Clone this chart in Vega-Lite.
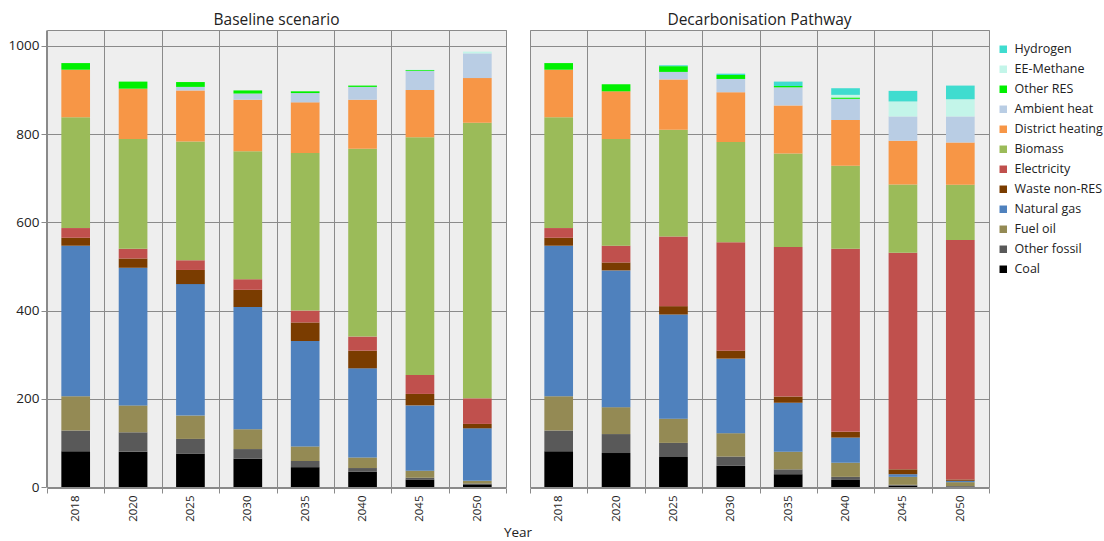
{
  "$schema": "https://vega.github.io/schema/vega-lite/v6.json",
  "padding": {"left": 8, "top": 12, "right": 0, "bottom": 0},
  "background": "white",
  "config": {
    "font": "Open Sans",
    "view": {"fill": "#eeeeee", "stroke": "#8a8a8a", "strokeWidth": 1},
    "axis": {"gridColor": "#8a8a8a", "gridOpacity": 1, "gridWidth": 1, "domainColor": "#8a8a8a", "tickColor": "#8a8a8a", "labelColor": "#222222", "labelFont": "Open Sans"},
    "legend": {"labelFont": "Open Sans"}
  },
  "data": {
    "values": [
      {"scenario": "Baseline scenario", "year": "2018", "Coal": 81, "Other fossil": 47, "Fuel oil": 78, "Natural gas": 341, "Waste non-RES": 18, "Electricity": 22, "Biomass": 251, "District heating": 108, "Ambient heat": 0, "Other RES": 15, "EE-Methane": 0, "Hydrogen": 0},
      {"scenario": "Baseline scenario", "year": "2020", "Coal": 80, "Other fossil": 44, "Fuel oil": 61, "Natural gas": 312, "Waste non-RES": 21, "Electricity": 22, "Biomass": 249, "District heating": 114, "Ambient heat": 0, "Other RES": 16, "EE-Methane": 0, "Hydrogen": 0},
      {"scenario": "Baseline scenario", "year": "2025", "Coal": 76, "Other fossil": 33, "Fuel oil": 53, "Natural gas": 298, "Waste non-RES": 32, "Electricity": 22, "Biomass": 269, "District heating": 116, "Ambient heat": 8, "Other RES": 11, "EE-Methane": 0, "Hydrogen": 0},
      {"scenario": "Baseline scenario", "year": "2030", "Coal": 64, "Other fossil": 22, "Fuel oil": 45, "Natural gas": 277, "Waste non-RES": 39, "Electricity": 24, "Biomass": 290, "District heating": 117, "Ambient heat": 14, "Other RES": 7, "EE-Methane": 0, "Hydrogen": 0},
      {"scenario": "Baseline scenario", "year": "2035", "Coal": 45, "Other fossil": 14, "Fuel oil": 33, "Natural gas": 239, "Waste non-RES": 42, "Electricity": 27, "Biomass": 357, "District heating": 115, "Ambient heat": 21, "Other RES": 4, "EE-Methane": 0, "Hydrogen": 0},
      {"scenario": "Baseline scenario", "year": "2040", "Coal": 35, "Other fossil": 8, "Fuel oil": 24, "Natural gas": 202, "Waste non-RES": 40, "Electricity": 32, "Biomass": 426, "District heating": 111, "Ambient heat": 29, "Other RES": 3, "EE-Methane": 0, "Hydrogen": 0},
      {"scenario": "Baseline scenario", "year": "2045", "Coal": 17, "Other fossil": 4, "Fuel oil": 16, "Natural gas": 148, "Waste non-RES": 26, "Electricity": 43, "Biomass": 539, "District heating": 107, "Ambient heat": 43, "Other RES": 2, "EE-Methane": 1, "Hydrogen": 0},
      {"scenario": "Baseline scenario", "year": "2050", "Coal": 6, "Other fossil": 2, "Fuel oil": 6, "Natural gas": 119, "Waste non-RES": 10, "Electricity": 58, "Biomass": 625, "District heating": 101, "Ambient heat": 56, "Other RES": 0, "EE-Methane": 4, "Hydrogen": 0},
      {"scenario": "Decarbonisation Pathway", "year": "2018", "Coal": 81, "Other fossil": 47, "Fuel oil": 78, "Natural gas": 341, "Waste non-RES": 18, "Electricity": 22, "Biomass": 251, "District heating": 108, "Ambient heat": 0, "Other RES": 15, "EE-Methane": 0, "Hydrogen": 0},
      {"scenario": "Decarbonisation Pathway", "year": "2020", "Coal": 77, "Other fossil": 43, "Fuel oil": 61, "Natural gas": 310, "Waste non-RES": 18, "Electricity": 38, "Biomass": 242, "District heating": 108, "Ambient heat": 0, "Other RES": 16, "EE-Methane": 0, "Hydrogen": 0},
      {"scenario": "Decarbonisation Pathway", "year": "2025", "Coal": 68, "Other fossil": 32, "Fuel oil": 55, "Natural gas": 236, "Waste non-RES": 19, "Electricity": 158, "Biomass": 242, "District heating": 114, "Ambient heat": 17, "Other RES": 13, "EE-Methane": 0, "Hydrogen": 2},
      {"scenario": "Decarbonisation Pathway", "year": "2030", "Coal": 48, "Other fossil": 21, "Fuel oil": 53, "Natural gas": 169, "Waste non-RES": 18, "Electricity": 246, "Biomass": 227, "District heating": 113, "Ambient heat": 30, "Other RES": 9, "EE-Methane": 0, "Hydrogen": 3},
      {"scenario": "Decarbonisation Pathway", "year": "2035", "Coal": 29, "Other fossil": 11, "Fuel oil": 40, "Natural gas": 111, "Waste non-RES": 14, "Electricity": 339, "Biomass": 212, "District heating": 109, "Ambient heat": 41, "Other RES": 3, "EE-Methane": 0, "Hydrogen": 10},
      {"scenario": "Decarbonisation Pathway", "year": "2040", "Coal": 16, "Other fossil": 7, "Fuel oil": 32, "Natural gas": 57, "Waste non-RES": 13, "Electricity": 415, "Biomass": 188, "District heating": 104, "Ambient heat": 48, "Other RES": 3, "EE-Methane": 6, "Hydrogen": 15},
      {"scenario": "Decarbonisation Pathway", "year": "2045", "Coal": 3, "Other fossil": 2, "Fuel oil": 18, "Natural gas": 6, "Waste non-RES": 11, "Electricity": 491, "Biomass": 155, "District heating": 99, "Ambient heat": 55, "Other RES": 0, "EE-Methane": 34, "Hydrogen": 24},
      {"scenario": "Decarbonisation Pathway", "year": "2050", "Coal": 1, "Other fossil": 1, "Fuel oil": 9, "Natural gas": 3, "Waste non-RES": 3, "Electricity": 543, "Biomass": 125, "District heating": 96, "Ambient heat": 59, "Other RES": 0, "EE-Methane": 39, "Hydrogen": 31}
    ]
  },
  "transform": [
    {"fold": ["Coal", "Other fossil", "Fuel oil", "Natural gas", "Waste non-RES", "Electricity", "Biomass", "District heating", "Ambient heat", "Other RES", "EE-Methane", "Hydrogen"], "as": ["source", "value"]},
    {"calculate": "indexof(['Coal','Other fossil','Fuel oil','Natural gas','Waste non-RES','Electricity','Biomass','District heating','Ambient heat','Other RES','EE-Methane','Hydrogen'], datum.source)", "as": "rank"}
  ],
  "facet": {
    "column": {
      "field": "scenario",
      "type": "nominal",
      "sort": ["Baseline scenario", "Decarbonisation Pathway"],
      "title": "Year",
      "header": {"titleOrient": "bottom", "labelOrient": "top", "titleFontSize": 13.5, "titleFontWeight": "normal", "titleColor": "#222222", "titleFont": "Open Sans", "titlePadding": -6, "labelFontSize": 15.5, "labelColor": "#222222", "labelPadding": 1, "labelFont": "Open Sans"}
    }
  },
  "spacing": 22,
  "spec": {
    "width": 459,
    "height": 457,
    "mark": {"type": "bar", "width": {"band": 0.5}},
    "encoding": {
      "x": {
        "field": "year",
        "type": "ordinal",
        "title": null,
        "scale": {"paddingInner": 0, "paddingOuter": 0},
        "axis": {"labelAngle": -90, "labelFontSize": 11.5, "grid": true, "bandPosition": 0, "tickBand": "extent", "tickSize": 5, "labelPadding": 2}
      },
      "y": {
        "field": "value",
        "type": "quantitative",
        "aggregate": "sum",
        "stack": "zero",
        "title": null,
        "scale": {"domain": [0, 1036], "nice": false},
        "axis": {"values": [0, 200, 400, 600, 800, 1000], "format": "d", "labelFontSize": 13.5, "tickSize": 5, "labelPadding": 2, "domain": true}
      },
      "color": {
        "field": "source",
        "type": "nominal",
        "scale": {
          "domain": ["Hydrogen", "EE-Methane", "Other RES", "Ambient heat", "District heating", "Biomass", "Electricity", "Waste non-RES", "Natural gas", "Fuel oil", "Other fossil", "Coal"],
          "range": ["#3fdccf", "#c3f5e9", "#00f000", "#b9cde4", "#f79646", "#9bbb59", "#c0504d", "#7a3c00", "#4f81bd", "#948a54", "#595959", "#000000"]
        },
        "legend": {"title": null, "symbolType": "square", "symbolSize": 56, "symbolStrokeWidth": 0, "labelFontSize": 12.5, "labelColor": "#222222", "rowPadding": 7, "offset": -6, "padding": 13, "labelOffset": 5}
      },
      "order": {"field": "rank", "type": "quantitative", "sort": "ascending"}
    }
  }
}
